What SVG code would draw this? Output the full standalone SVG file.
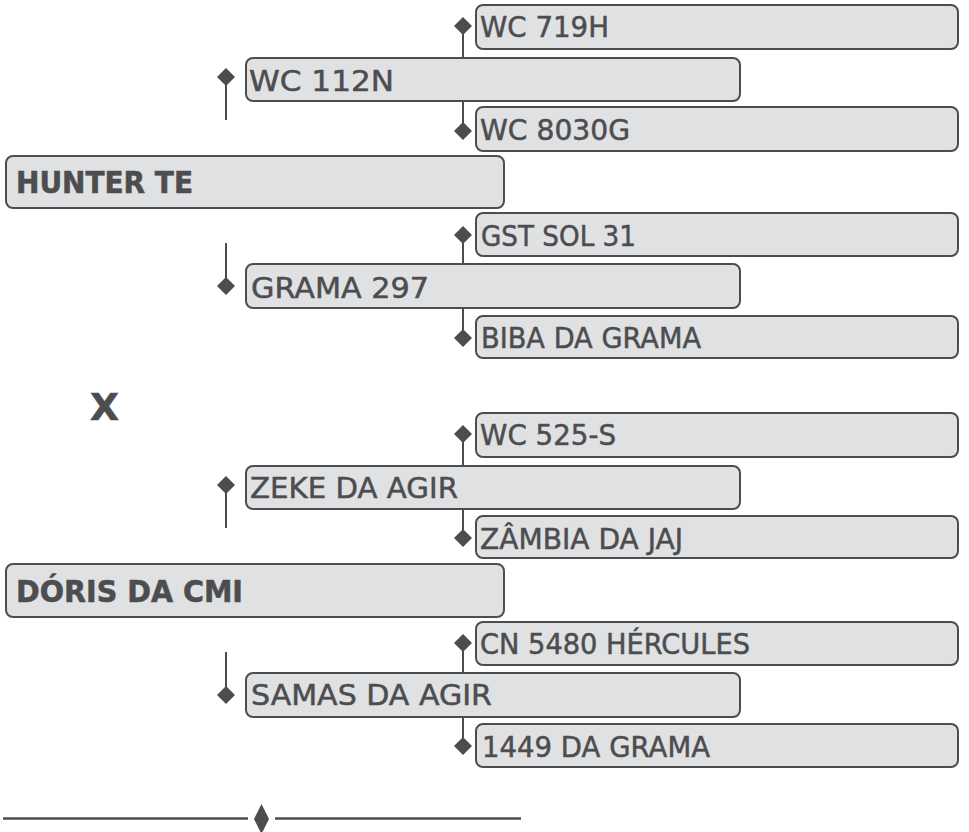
<svg xmlns="http://www.w3.org/2000/svg" xmlns:xlink="http://www.w3.org/1999/xlink" width="969" height="832" viewBox="0 0 969 832">
<style>
.box{fill:#e0e1e3;stroke:#4d4d4f;stroke-width:2}
.t{font-family:"DejaVu Sans","Liberation Sans",sans-serif;font-size:28px;fill:#4d4d4f;stroke:#4d4d4f;stroke-width:0.5}
.b{font-family:"DejaVu Sans","Liberation Sans",sans-serif;font-size:31px;font-weight:bold;fill:#4d4d4f;stroke:#4d4d4f;stroke-width:0.6}
.bx{font-family:"DejaVu Sans","Liberation Sans",sans-serif;font-size:38px;font-weight:bold;fill:#4d4d4f;stroke:#4d4d4f;stroke-width:0.6}
.ln{stroke:#4d4d4f;stroke-width:2;fill:none}
.dm{fill:#4d4d4f}
</style>
<defs>
<path id="d" d="M0,-9 L9,0 L0,9 L-9,0 Z"/>
</defs>
<rect width="969" height="832" fill="#ffffff"/>
<g id="connectors">
<line class="ln" x1="463" y1="26" x2="463" y2="58"/>
<line class="ln" x1="463" y1="101" x2="463" y2="131"/>
<line class="ln" x1="226" y1="77" x2="226" y2="120"/>
<line class="ln" x1="463" y1="235" x2="463" y2="264"/>
<line class="ln" x1="463" y1="308" x2="463" y2="338"/>
<line class="ln" x1="226" y1="243" x2="226" y2="286"/>
<line class="ln" x1="463" y1="434" x2="463" y2="466"/>
<line class="ln" x1="463" y1="509" x2="463" y2="538"/>
<line class="ln" x1="226" y1="485" x2="226" y2="528"/>
<line class="ln" x1="463" y1="643" x2="463" y2="673"/>
<line class="ln" x1="463" y1="717" x2="463" y2="746"/>
<line class="ln" x1="226" y1="652" x2="226" y2="695"/>
<use xlink:href="#d" class="dm" x="463" y="26"/>
<use xlink:href="#d" class="dm" x="463" y="131"/>
<use xlink:href="#d" class="dm" x="226" y="77"/>
<use xlink:href="#d" class="dm" x="463" y="235"/>
<use xlink:href="#d" class="dm" x="463" y="338"/>
<use xlink:href="#d" class="dm" x="226" y="286"/>
<use xlink:href="#d" class="dm" x="463" y="434"/>
<use xlink:href="#d" class="dm" x="463" y="538"/>
<use xlink:href="#d" class="dm" x="226" y="485"/>
<use xlink:href="#d" class="dm" x="463" y="643"/>
<use xlink:href="#d" class="dm" x="463" y="746"/>
<use xlink:href="#d" class="dm" x="226" y="695"/>
</g>
<g id="n-wc719h"><rect class="box" x="476" y="5" width="482" height="44" rx="7"/><text class="t" x="480" y="37" textLength="129" lengthAdjust="spacingAndGlyphs">WC 719H</text></g>
<g id="n-wc112n"><rect class="box" x="246" y="58" width="494" height="43" rx="7"/><text class="t" x="249" y="90.5" textLength="145" lengthAdjust="spacingAndGlyphs">WC 112N</text></g>
<g id="n-wc8030g"><rect class="box" x="476" y="107" width="482" height="44" rx="7"/><text class="t" x="480" y="140" textLength="150" lengthAdjust="spacingAndGlyphs">WC 8030G</text></g>
<g id="n-hunter"><rect class="box" x="6" y="156" width="498" height="52" rx="7"/><text class="b" x="16" y="192.5" textLength="177" lengthAdjust="spacingAndGlyphs">HUNTER TE</text></g>
<g id="n-gstsol"><rect class="box" x="476" y="213" width="482" height="43" rx="7"/><text class="t" x="481" y="245.5" textLength="155" lengthAdjust="spacingAndGlyphs">GST SOL 31</text></g>
<g id="n-grama297"><rect class="box" x="246" y="264" width="494" height="44" rx="7"/><text class="t" x="251" y="298" textLength="178" lengthAdjust="spacingAndGlyphs">GRAMA 297</text></g>
<g id="n-biba"><rect class="box" x="476" y="316" width="482" height="42" rx="7"/><text class="t" x="481" y="348" textLength="220" lengthAdjust="spacingAndGlyphs">BIBA DA GRAMA</text></g>
<g id="label-x"><text class="bx" x="90" y="420" textLength="29" lengthAdjust="spacingAndGlyphs">X</text></g>
<g id="n-wc525s"><rect class="box" x="476" y="413" width="482" height="44" rx="7"/><text class="t" x="480" y="445" textLength="136" lengthAdjust="spacingAndGlyphs">WC 525-S</text></g>
<g id="n-zeke"><rect class="box" x="246" y="466" width="494" height="43" rx="7"/><text class="t" x="250" y="498" textLength="208" lengthAdjust="spacingAndGlyphs">ZEKE DA AGIR</text></g>
<g id="n-zambia"><rect class="box" x="476" y="516" width="482" height="42" rx="7"/><text class="t" x="480" y="549" textLength="203" lengthAdjust="spacingAndGlyphs">ZÂMBIA DA JAJ</text></g>
<g id="n-doris"><rect class="box" x="6" y="564" width="498" height="53" rx="7"/><text class="b" x="16" y="601.5" textLength="227" lengthAdjust="spacingAndGlyphs">DÓRIS DA CMI</text></g>
<g id="n-cn5480"><rect class="box" x="476" y="622" width="482" height="43" rx="7"/><text class="t" x="480" y="654" textLength="270" lengthAdjust="spacingAndGlyphs">CN 5480 HÉRCULES</text></g>
<g id="n-samas"><rect class="box" x="246" y="673" width="494" height="44" rx="7"/><text class="t" x="251" y="705" textLength="241" lengthAdjust="spacingAndGlyphs">SAMAS DA AGIR</text></g>
<g id="n-1449"><rect class="box" x="476" y="724" width="482" height="43" rx="7"/><text class="t" x="482" y="757" textLength="228" lengthAdjust="spacingAndGlyphs">1449 DA GRAMA</text></g>
<g id="divider">
<line x1="3" y1="818.5" x2="248" y2="818.5" stroke="#4d4d4f" stroke-width="2.5"/>
<line x1="275" y1="818.5" x2="521" y2="818.5" stroke="#4d4d4f" stroke-width="2.5"/>
<path d="M261.5,804 L269,819 L261.5,834 L254,819 Z" fill="#4d4d4f"/>
</g>
</svg>
